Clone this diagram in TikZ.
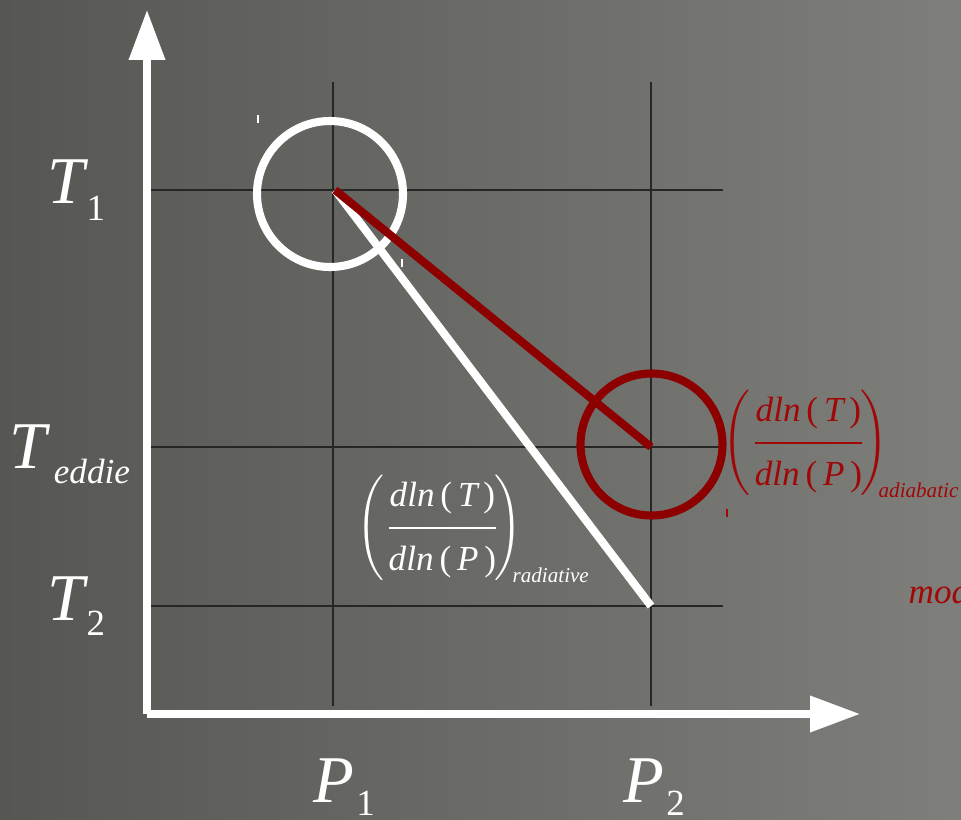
\documentclass[tikz,border=0pt]{standalone}
\usepackage{amsmath}
\usepackage{fontspec}
\setmainfont{Liberation Serif}
\usepackage{tikz}
\usetikzlibrary{arrows.meta}
\usepackage{xcolor}

\definecolor{boardleft}{RGB}{86,86,82}
\definecolor{boardright}{RGB}{126,126,123}
\definecolor{chalkred}{RGB}{140,0,0}
\definecolor{inkred}{RGB}{160,8,8}

% slope of a path, (dln T / dln P) with a small tag
\newcommand{\slopefrac}[1]{$\left(\genfrac{}{}{0.6pt}{0}{\mbox{\itshape dln\,\upshape(\,\itshape T\,\upshape)}\rule[-4pt]{0pt}{4pt}}{\rule{0pt}{10pt}\mbox{\itshape dln\,\upshape(\,\itshape P\,\upshape)}}\!\right)_{\!\!\mbox{\fontsize{6}{7}\selectfont\itshape #1}}$}

\begin{document}
\begin{tikzpicture}[
		axis/.style={white,line width=2pt,-{Triangle[length=5mm,width=3.5mm]}},
		gridline/.style={black!85,line width=0.45pt},
		chalk/.style={line width=2.3pt},
		biglabel/.style={white,inner sep=0pt,font=\fontsize{19}{20}\selectfont\itshape},
		slope/.style={anchor=base west,inner sep=0pt,font=\fontsize{10}{11}\selectfont},
	]
		% Board
		\useasboundingbox (0,0) rectangle (9.61,8.19);
		\shade[left color=boardleft,right color=boardright] (0,0) rectangle (9.61,8.19);
		
		% Grid through the two states
		\foreach \y/\name in {6.29/t1, 3.72/te, 2.13/t2} {
			\coordinate (\name a) at (1.50,\y);
			\coordinate (\name b) at (7.23,\y);
			\draw[gridline] (\name a) -- (\name b);
		}
		\foreach \x/\name in {3.33/p1, 6.51/p2} {
			\coordinate (\name a) at (\x,1.13);
			\coordinate (\name b) at (\x,7.37);
			\draw[gridline] (\name a) -- (\name b);
		}
		
		% Axes
		\coordinate (o) at (1.47,1.05);
		\coordinate (ytip) at (1.47,8.09);
		\coordinate (xtip) at (8.60,1.05);
		\draw[axis] (o) -- (ytip);
		\draw[axis] (o) -- (xtip);
		
		% The two states and the paths between them
		\coordinate (s1) at (3.35,6.29);
		\coordinate (s2) at (6.51,2.13);
		\coordinate (s3) at (6.51,3.72);
		\draw[white,chalk] (3.30,6.25) circle (0.73);
		\draw[chalkred,chalk] (6.515,3.745) circle (0.71);
		\draw[white,chalk] (s1) -- (s2);
		\draw[chalkred,chalk] (s1) -- (s3);
		
		% Stray marks
		\foreach \x/\y/\c in {2.58/6.96/white, 4.02/5.52/white, 7.27/3.02/inkred} {
			\draw[\c,line width=0.5pt] (\x,\y) -- (\x,\y+0.08);
		}
		
		% Axis labels
		\node[biglabel,anchor=base west] (t1) at (0.47,6.16)
		{T\kern0.5pt\raisebox{-0.17cm}{\fontsize{10.5}{11}\selectfont\upshape 1}};
		\node[biglabel,anchor=base west] (te) at (0.09,3.51)
		{T\kern2pt\raisebox{-0.15cm}{\fontsize{10}{10}\selectfont\itshape eddie}};
		\node[biglabel,anchor=base west] (t2) at (0.47,1.99)
		{T\kern0.5pt\raisebox{-0.15cm}{\fontsize{10.5}{11}\selectfont\upshape 2}};
		\node[biglabel,anchor=base west] (p1) at (3.13,0.17)
		{P\kern0.5pt\raisebox{-0.13cm}{\fontsize{10.5}{11}\selectfont\upshape 1}};
		\node[biglabel,anchor=base west] (p2) at (6.23,0.17)
		{P\kern0.5pt\raisebox{-0.13cm}{\fontsize{10.5}{11}\selectfont\upshape 2}};
		
		% Slopes
		\node[slope,white] (rad) at (3.56,2.82) {\slopefrac{radiative}};
		\node[slope,inkred] (adi) at (7.22,3.67) {\slopefrac{adiabatic}};
		\node[inkred,anchor=base west,inner sep=0pt,font=\fontsize{10}{11}\selectfont\itshape] (mod) at (9.08,2.16) {mod};
	\end{tikzpicture}
\end{document}
